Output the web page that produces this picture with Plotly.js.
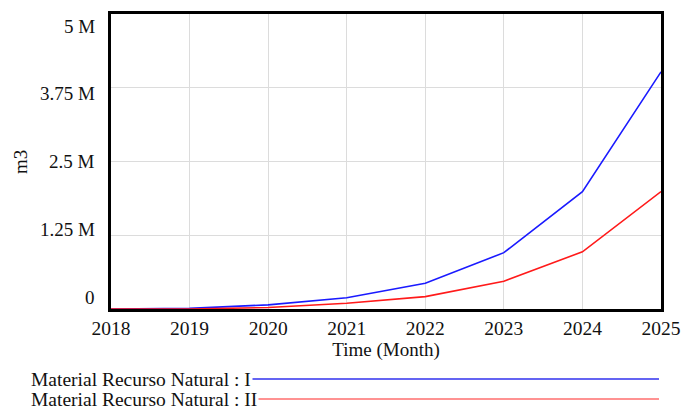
<!DOCTYPE html>
<html>
<head>
<meta charset="utf-8">
<script src="https://cdn.plot.ly/plotly-3.0.1.min.js"></script>
<style>html,body{margin:0;padding:0;background:#fff;}#chart{width:681px;height:411px;}</style>
</head>
<body>
<div id="chart"></div>
<script>
// Data
const years = [2018, 2019, 2020, 2021, 2022, 2023, 2024, 2025];
const seriesNames = ["Material Recurso Natural : I", "Material Recurso Natural : II"];
const seriesI  = [0, 10000, 70000, 190000, 435000, 955000, 1990000, 4020000];
const seriesII = [0, 0, 25000, 97000, 210000, 470000, 970000, 1990000];
const yTickVals = [0, 1250000, 2500000, 3750000, 5000000];
const yTickText = ["0", "1.25 M", "2.5 M", "3.75 M", "5 M"];
const xTickVals = years;

const FONT = "'Liberation Serif', 'Times New Roman', 'DejaVu Serif', serif";
const colors = ["#1a1aff", "#ff1a1a"];
const legendColors = ["#3030ee", "#ff6e6e"];

const traces = [
  {x: years, y: seriesI, mode: "lines", name: seriesNames[0], line: {color: colors[0], width: 1.6}},
  {x: years, y: seriesII, mode: "lines", name: seriesNames[1], line: {color: colors[1], width: 1.6}}
];

const annotations = [];
// y tick labels (Vensim-style spread)
yTickVals.forEach((v, i) => {
  annotations.push({
    xref: "paper", yref: "y", x: 0, y: v, xanchor: "right", yanchor: "middle",
    xshift: -14, yshift: 6 * (4 - i) - 12, showarrow: false,
    text: yTickText[i], font: {family: FONT, size: 19, color: "#111"}
  });
});
// legend rows
const legendY = [379, 399];
seriesNames.forEach((n, i) => {
  annotations.push({
    xref: "paper", yref: "paper", x: (30 - 111) / 550, y: (309 - legendY[i]) / 295,
    xanchor: "left", yanchor: "middle", showarrow: false, borderpad: 0,
    text: n, font: {family: FONT, size: 19.5, color: "#111"}
  });
});
// y axis title as annotation
annotations.push({
  xref: "paper", yref: "paper", x: (20 - 111) / 550, y: (309 - 162) / 295,
  xanchor: "center", yanchor: "middle", textangle: -90, showarrow: false,
  text: "m3", font: {family: FONT, size: 19, color: "#111"}
});

const layout = {
  width: 681, height: 411,
  margin: {l: 111, r: 20, t: 14, b: 102},
  paper_bgcolor: "#fff", plot_bgcolor: "#fff",
  showlegend: false,
  font: {family: FONT, size: 19, color: "#111"},
  xaxis: {
    range: [2018, 2025], tickvals: xTickVals, ticktext: years.map(String),
    showgrid: true, gridcolor: "#dcdcdc", gridwidth: 1,
    showline: true, linecolor: "#000", linewidth: 3, mirror: true,
    ticks: "", zeroline: false,
    tickfont: {family: FONT, size: 19.5, color: "#111"},
    title: {text: "Time (Month)", font: {family: FONT, size: 19, color: "#111"}, standoff: 3}
  },
  yaxis: {
    range: [0, 5000000], tickvals: yTickVals, showticklabels: false,
    showgrid: true, gridcolor: "#dcdcdc", gridwidth: 1,
    showline: true, linecolor: "#000", linewidth: 3, mirror: true,
    ticks: "", zeroline: false
  },
  annotations: annotations
};

Plotly.newPlot("chart", traces, layout, {staticPlot: true, displayModeBar: false}).then(gd => {
  // legend lines: start after each text label
  const texts = gd.querySelectorAll(".annotation");
  const newShapes = [];
  seriesNames.forEach((n, i) => {
    const ann = texts[yTickVals.length + i];
    const bb = ann.getBoundingClientRect();
    const x0 = (bb.right + 1 - 111) / 550;
    newShapes.push({
      type: "line", xref: "paper", yref: "paper",
      x0: x0, x1: (659 - 111) / 550,
      y0: (309 - legendY[i]) / 295, y1: (309 - legendY[i]) / 295,
      line: {color: legendColors[i], width: 1.3}
    });
  });
  Plotly.relayout(gd, {shapes: newShapes});
});
</script>
</body>
</html>
